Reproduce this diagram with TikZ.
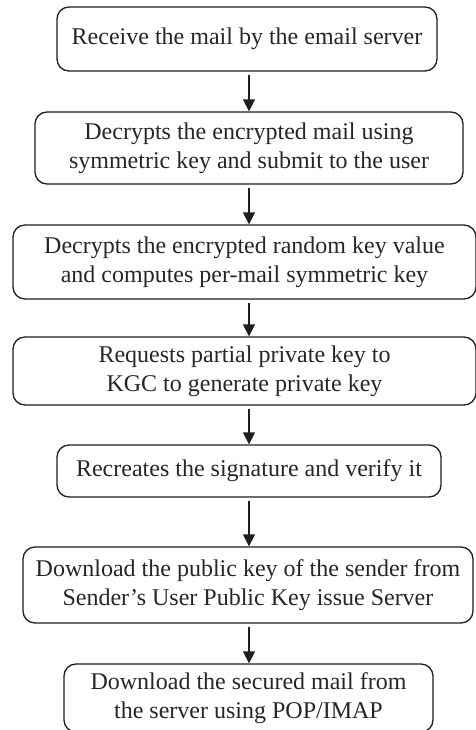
\documentclass[tikz,border=0pt]{standalone}
\usepackage{fontspec}
\setmainfont{Liberation Serif}
\usetikzlibrary{arrows.meta}
\begin{document}
\begin{tikzpicture}[x=1pt,y=-1pt,
  stepbox/.style={draw=black!88, line width=1.3pt, rounded corners=12pt,
    align=center, inner sep=0pt, text=black!85,
    font=\fontsize{24pt}{29pt}\selectfont},
  flow/.style={draw=black!88, line width=1.3pt, shorten <=3pt,
    -{Triangle[width=12pt,length=12pt]}}]
\useasboundingbox (0,0) rectangle (475,730);
\node[stepbox, minimum width=380pt, minimum height=64pt] (s1) at (247,39)
  {Receive the mail by the email server};
\node[stepbox, minimum width=428pt, minimum height=72pt] (s2) at (249,148)
  {Decrypts the encrypted mail using\\symmetric key and submit to the user};
\node[stepbox, minimum width=463pt, minimum height=74pt] (s3) at (244.5,262)
  {Decrypts the encrypted random key value\\and computes per-mail symmetric key};
\node[stepbox, minimum width=463pt, minimum height=68pt] (s4) at (244.5,371)
  {Requests partial private key to\\KGC to generate private key};
\node[stepbox, minimum width=384pt, minimum height=52pt] (s5) at (249,471)
  {Recreates the signature and verify it};
\node[stepbox, minimum width=450pt, minimum height=76pt] (s6) at (248,585)
  {Download the public key of the sender from\\Sender’s User Public Key issue Server};
\node[stepbox, minimum width=369pt, minimum height=68pt] (s7) at (248.5,698)
  {Download the secured mail from\\the server using POP/IMAP};
\foreach \a/\b in {s1/s2,s2/s3,s3/s4,s4/s5,s5/s6,s6/s7}
  \draw[flow] (\a.south -| 249,0) -- (\b.north -| 249,0);
\end{tikzpicture}
\end{document}
